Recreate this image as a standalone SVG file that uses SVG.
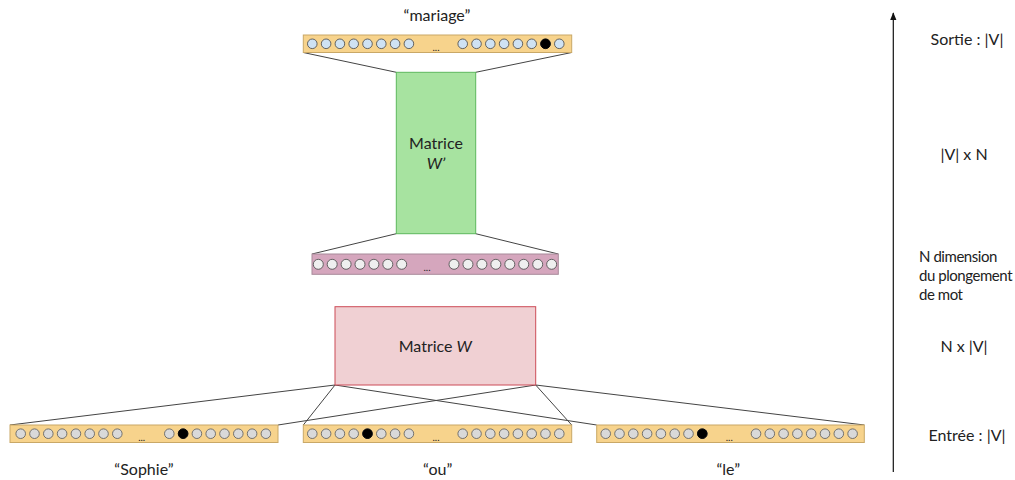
<svg xmlns="http://www.w3.org/2000/svg" xmlns:xlink="http://www.w3.org/1999/xlink" width="1015" height="480" viewBox="0 0 1015 480">
<style>
text{font-family:Lato,"Noto Sans","Liberation Sans",sans-serif;fill:#222;}
.lbl{font-size:16px;text-anchor:middle;}
.side{font-size:15px;letter-spacing:-0.45px;}
.dots{font-size:10px;text-anchor:middle;}
.vecY{fill:#f7d38c;stroke:#c9a867;stroke-width:1;}
.vecP{fill:#d5a6bd;stroke:#a88a9a;stroke-width:1;}
.conn line{stroke:#444;stroke-width:1;}
</style>
<defs>
<g id="row8"><circle cx="0" cy="0" r="4.8"/><circle cx="13.8" cy="0" r="4.8"/><circle cx="27.6" cy="0" r="4.8"/><circle cx="41.4" cy="0" r="4.8"/><circle cx="55.2" cy="0" r="4.8"/><circle cx="69" cy="0" r="4.8"/><circle cx="82.8" cy="0" r="4.8"/><circle cx="96.6" cy="0" r="4.8"/></g>
<g id="row7p"><circle cx="0" cy="0" r="5"/><circle cx="13.9" cy="0" r="5"/><circle cx="27.8" cy="0" r="5"/><circle cx="41.7" cy="0" r="5"/><circle cx="55.6" cy="0" r="5"/><circle cx="69.5" cy="0" r="5"/><circle cx="83.4" cy="0" r="5"/></g>
<g id="row8p"><circle cx="0" cy="0" r="5"/><circle cx="13.95" cy="0" r="5"/><circle cx="27.9" cy="0" r="5"/><circle cx="41.85" cy="0" r="5"/><circle cx="55.8" cy="0" r="5"/><circle cx="69.75" cy="0" r="5"/><circle cx="83.7" cy="0" r="5"/><circle cx="97.65" cy="0" r="5"/></g>
<marker id="ah" viewBox="0 0 10 10" refX="9" refY="5" markerWidth="8" markerHeight="8" orient="auto" markerUnits="userSpaceOnUse"><path d="M0,1 L10,5 L0,9 Z" fill="#111"/></marker>
</defs>

<g class="conn" id="connectors">
<line x1="303.3" y1="52.5" x2="396.3" y2="72.3"/>
<line x1="571.7" y1="52.5" x2="475.7" y2="72.3"/>
<line x1="396.3" y1="233.7" x2="312" y2="254"/>
<line x1="475.7" y1="233.7" x2="558.3" y2="254"/>
<line x1="335" y1="385" x2="10" y2="425"/>
<line x1="335" y1="385" x2="303.3" y2="425"/>
<line x1="335" y1="385" x2="596.7" y2="425"/>
<line x1="535.7" y1="385" x2="278" y2="425"/>
<line x1="535.7" y1="385" x2="571.7" y2="425"/>
<line x1="535.7" y1="385" x2="864.3" y2="425"/>
</g>

<g id="out-vector">
<text class="lbl" x="437" y="21">“mariage”</text>
<rect class="vecY" x="303.3" y="35" width="268.4" height="17.5"/>
<use xlink:href="#row8" x="312.3" y="43.8" fill="#cfe2f3" stroke="#555" stroke-width="0.9"/>
<use xlink:href="#row8" x="462.7" y="43.8" fill="#cfe2f3" stroke="#555" stroke-width="0.9"/>
<circle cx="545.5" cy="43.8" r="4.8" fill="#000" stroke="#000" stroke-width="0.9"/>
<text class="dots" x="436" y="51">...</text>
</g>

<g id="matrix-w-prime">
<rect x="396.3" y="72.3" width="79.4" height="161.4" fill="#a7e3a0" stroke="#5cb85c" stroke-width="1"/>
<text class="lbl" x="436" y="149">Matrice</text>
<text class="lbl" x="436" y="169" font-style="italic">W’</text>
</g>

<g id="hidden-vector">
<rect class="vecP" x="312" y="254" width="246.3" height="20.3"/>
<use xlink:href="#row7p" x="318.3" y="264.3" fill="#efefef" stroke="#555" stroke-width="0.9"/>
<use xlink:href="#row8p" x="454" y="264.3" fill="#efefef" stroke="#555" stroke-width="0.9"/>
<text class="dots" x="427" y="271">...</text>
</g>

<g id="matrix-w">
<rect x="335" y="306.7" width="200.7" height="78.3" fill="#f0d0d3" stroke="#cc4b57" stroke-width="1"/>
<text class="lbl" x="435.3" y="352">Matrice <tspan font-style="italic">W</tspan></text>
</g>

<g id="in-sophie">
<rect class="vecY" x="10" y="425" width="268" height="17.5"/>
<use xlink:href="#row8" x="20.7" y="433.7" fill="#d9d9d9" stroke="#666" stroke-width="0.9"/>
<use xlink:href="#row8" x="169.3" y="433.7" fill="#d9d9d9" stroke="#666" stroke-width="0.9"/>
<circle cx="183.1" cy="433.7" r="4.8" fill="#000" stroke="#000" stroke-width="0.9"/>
<text class="dots" x="141.7" y="441">...</text>
<text class="lbl" x="144" y="475">“Sophie”</text>
</g>

<g id="in-ou">
<rect class="vecY" x="303.3" y="425" width="268.4" height="17.5"/>
<use xlink:href="#row8" x="312.3" y="433.7" fill="#d9d9d9" stroke="#666" stroke-width="0.9"/>
<use xlink:href="#row8" x="462.7" y="433.7" fill="#d9d9d9" stroke="#666" stroke-width="0.9"/>
<circle cx="367.5" cy="433.7" r="4.8" fill="#000" stroke="#000" stroke-width="0.9"/>
<text class="dots" x="436" y="441">...</text>
<text class="lbl" x="437.7" y="475">“ou”</text>
</g>

<g id="in-le">
<rect class="vecY" x="596.7" y="425" width="267.6" height="17.5"/>
<use xlink:href="#row8" x="605.7" y="433.7" fill="#d9d9d9" stroke="#666" stroke-width="0.9"/>
<use xlink:href="#row8" x="756" y="433.7" fill="#d9d9d9" stroke="#666" stroke-width="0.9"/>
<circle cx="702.3" cy="433.7" r="4.8" fill="#000" stroke="#000" stroke-width="0.9"/>
<text class="dots" x="729.3" y="441">...</text>
<text class="lbl" x="728.3" y="475">“le”</text>
</g>

<g id="axis">
<line x1="893.3" y1="472" x2="893.3" y2="13" stroke="#111" stroke-width="1.2" marker-end="url(#ah)"/>
<text class="lbl" x="967" y="45">Sortie : |V|</text>
<text class="lbl" x="964" y="160">|V| x N</text>
<text class="side" x="919" y="262">N dimension</text>
<text class="side" x="919" y="281">du plongement</text>
<text class="side" x="919" y="300">de mot</text>
<text class="lbl" x="964" y="352">N x |V|</text>
<text class="lbl" x="967" y="441">Entrée : |V|</text>
</g>
</svg>
